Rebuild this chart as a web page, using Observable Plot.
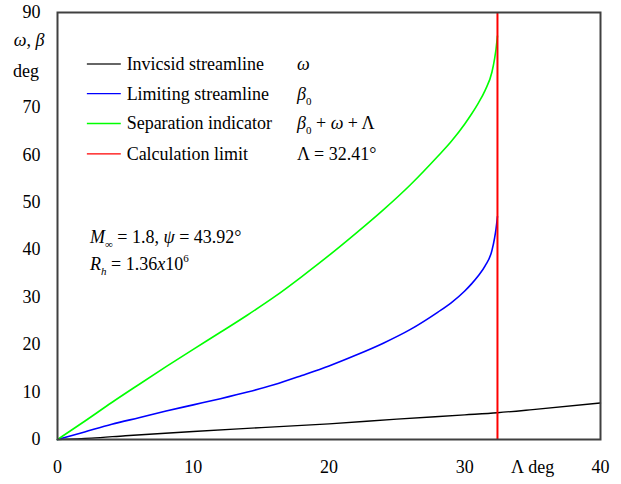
<!DOCTYPE html>
<html>
<head>
<meta charset="utf-8">
<script src="https://cdn.jsdelivr.net/npm/d3@7"></script>
<script src="https://cdn.jsdelivr.net/npm/@observablehq/plot@0.6"></script>
<style>
  html, body { margin: 0; padding: 0; background: #fff; }
  svg { display: block; }
</style>
</head>
<body>
<div id="chart"></div>
<script>
// Sweep angle Λ (deg) for the boundary-layer curves
const lam = [0, 2, 4, 6, 8, 10, 12, 14, 16, 18, 20, 22, 24, 26, 28, 29, 30, 30.5, 31, 31.5, 32, 32.2, 32.3, 32.41];
// Limiting streamline β0 (deg)
const beta0 = [0, 1.6, 3.2, 4.6, 6.0, 7.3, 8.6, 10.0, 11.6, 13.5, 15.5, 17.8, 20.3, 23.2, 26.8, 28.8, 31.3, 32.8, 34.5, 36.6, 39.8, 42.5, 44.3, 47.0];
// Separation indicator β0 + ω + Λ (deg)
const sepInd = [0, 3.85, 7.8, 11.6, 15.35, 19.0, 22.6, 26.25, 30.1, 34.35, 38.8, 43.5, 48.4, 53.7, 59.65, 62.8, 66.5, 68.6, 70.9, 73.6, 77.4, 80.3, 82.2, 85.06];
// Inviscid streamline ω (deg)
const omegaLam = [0, 2.5, 5, 10, 15, 20, 25, 30, 32.41, 35, 40];
const omega = [0, 0.3, 0.8, 1.7, 2.5, 3.3, 4.3, 5.2, 5.65, 6.3, 7.7];
// Calculation limit
const calcLimit = [32.41];

// Ticks
const xTicks = [0, 10, 20, 30, 35, 40];
const xTickLabels = ["0", "10", "20", "30", "Λ deg", "40"];
const yTicks = [0, 10, 20, 30, 40, 50, 60, 70, 90];

// Legend
const legendLabels = ["Invicsid streamline", "Limiting streamline", "Separation indicator", "Calculation limit"];
const legendColors = ["#333333", "#0000ff", "#00ff00", "#ff0000"];

const FONT = "'Liberation Serif', 'Times New Roman', serif";

const blueData = lam.map((x, i) => ({x, y: beta0[i]}));
const greenData = lam.map((x, i) => ({x, y: sepInd[i]}));
const blackData = omegaLam.map((x, i) => ({x, y: omega[i]}));

const plot = Plot.plot({
  width: 621,
  height: 484,
  marginLeft: 57,
  marginRight: 21,
  marginTop: 12,
  marginBottom: 45,
  x: {domain: [0, 40]},
  y: {domain: [0, 90]},
  style: {fontFamily: FONT, fontSize: "18px", background: "#fff", color: "#000"},
  marks: [
    Plot.axisX({ticks: xTicks, tickSize: 0, tickPadding: 21, fontSize: 18,
      tickFormat: d => xTickLabels[xTicks.indexOf(d)], label: null}),
    Plot.axisY({ticks: yTicks, tickSize: 0, tickPadding: 17, fontSize: 18, label: null}),
    Plot.line(blackData, {x: "x", y: "y", stroke: "#000", strokeWidth: 1.4, curve: "monotone-x"}),
    Plot.line(blueData, {x: "x", y: "y", stroke: "#0000ff", strokeWidth: 1.6, curve: "monotone-x"}),
    Plot.line(greenData, {x: "x", y: "y", stroke: "#00ff00", strokeWidth: 1.6, curve: "monotone-x"}),
    Plot.ruleX(calcLimit, {stroke: "#ff0000", strokeWidth: 2}),
    Plot.frame({stroke: "#404040", strokeWidth: 2})
  ]
});

document.getElementById("chart").appendChild(plot);

const xs = plot.scale("x"), ys = plot.scale("y");
const svg = d3.select(plot);
const g = svg.append("g")
  .attr("font-family", FONT).attr("font-size", 18).attr("fill", "#000")
  .attr("text-anchor", "start").style("text-anchor", "start");

function rich(x, y, parts, anchor) {
  const t = g.append("text").attr("x", x).attr("y", y)
    .attr("text-anchor", anchor || "start").style("text-anchor", anchor || "start");
  let shift = 0;
  parts.forEach(p => {
    const s = t.append("tspan").text(p.t);
    if (p.i) s.attr("font-style", "italic");
    let target = 0;
    if (p.sub) { target = 5; s.attr("font-size", 11); }
    if (p.sup) { target = -8; s.attr("font-size", 11); }
    if (target !== shift) { s.attr("dy", target - shift); shift = target; }
  });
  return t;
}

// Legend rows (in data units, mapped through the scales)
const legendRowY = [79.05, 72.8, 66.5, 60.1];
legendLabels.forEach((label, i) => {
  const py = ys.apply(legendRowY[i]);
  g.append("line")
    .attr("x1", xs.apply(2.2)).attr("x2", xs.apply(4.7))
    .attr("y1", py).attr("y2", py)
    .attr("stroke", legendColors[i]).attr("stroke-width", 1.4);
  rich(xs.apply(5.13), py + 6, [{t: label}]);
});

const symX = xs.apply(17.68);
rich(symX, ys.apply(legendRowY[0]) + 6, [{t: "ω", i: true}]);
rich(symX, ys.apply(legendRowY[1]) + 6, [{t: "β", i: true}, {t: "0", sub: true}]);
rich(symX, ys.apply(legendRowY[2]) + 6, [{t: "β", i: true}, {t: "0", sub: true}, {t: " + "}, {t: "ω", i: true}, {t: " + Λ"}]);
rich(symX, ys.apply(legendRowY[3]) + 6, [{t: "Λ = 32.41°"}]);

// Flow conditions annotation
rich(xs.apply(2.43), ys.apply(41.3), [{t: "M", i: true}, {t: "∞", sub: true}, {t: " = 1.8, "}, {t: "ψ", i: true}, {t: " = 43.92°"}]);
rich(xs.apply(2.43), ys.apply(35.6), [{t: "R", i: true}, {t: "h", i: true, sub: true}, {t: " = 1.36"}, {t: "x", i: true}, {t: "10"}, {t: "6", sup: true}]);

// Y-axis title (stacked, in the 80 tick slot)
rich(29, 46, [{t: "ω", i: true}, {t: ", "}, {t: "β", i: true}], "middle");
rich(26, 77, [{t: "deg"}], "middle");
</script>
</body>
</html>
